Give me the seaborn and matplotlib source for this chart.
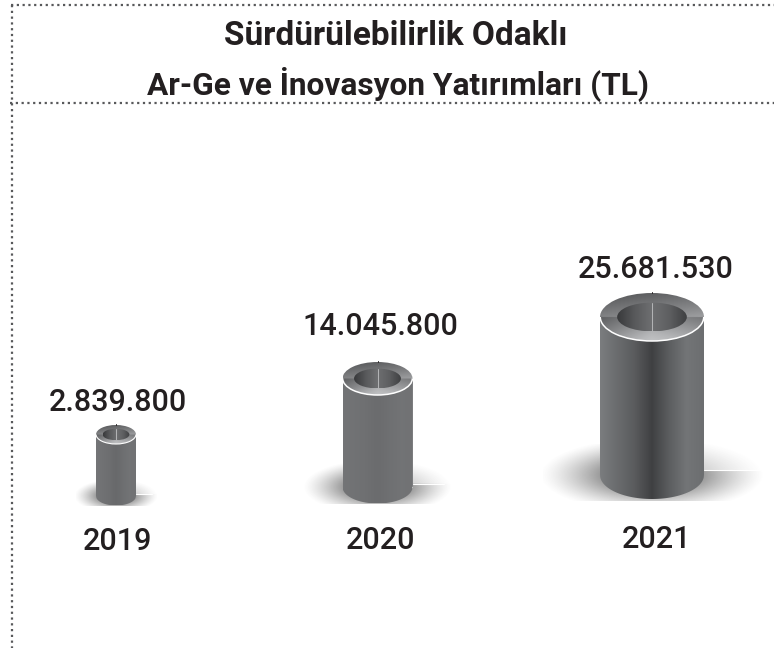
import numpy as np
import matplotlib
matplotlib.use("Agg")
from matplotlib import pyplot as plt
from matplotlib.colors import LinearSegmentedColormap, to_rgb
from matplotlib.patches import Arc, Ellipse
from matplotlib.path import Path
from matplotlib.transforms import ScaledTranslation
import seaborn as sns

title_lines = ["Sürdürülebilirlik Odaklı", "Ar-Ge ve İnovasyon Yatırımları (TL)"]
years = ["2019", "2020", "2021"]
values = [2839800, 14045800, 25681530]
value_labels = ["2.839.800", "14.045.800", "25.681.530"]

W, H = 774, 648

# pixel layout of each cylinder: centre x, rx, ry, top centre y, bottom centre y
layout = {
    "2019": (116, 20, 9.5, 434.5, 496),
    "2020": (377.5, 35, 16.5, 378.5, 487),
    "2021": (652, 52, 24, 317, 475),
}
# pad (pt) of value label, pad (pt) of year label, x shift (pt) of labels
label_pads = {"2019": (12.5, 15.5, 1), "2020": (27, 16, 2), "2021": (24, 19, 3)}
# shadow box in pixels: left, right, top, bottom
shadows = {
    "2019": (76, 160, 480, 506),
    "2020": (303, 452, 462, 504),
    "2021": (543, 768, 444, 501),
}
# how much of the body shading shows on each cylinder
contrast = {"2019": 0.2, "2020": 0.14, "2021": 1.0}

sns.set_theme(style="white")
plt.rcParams["font.family"] = ["Roboto", "DejaVu Sans"]

body_stops = ["#7b7d7f", "#6a6c6e", "#5a5b5d", "#3f4042", "#5c5e60", "#737577", "#6c6e70"]
hole_cmap = LinearSegmentedColormap.from_list(
    "hole", ["#38393b", "#58595b", "#6e6f71", "#5e5f61", "#3f4042"]
)
ring_cmap = LinearSegmentedColormap.from_list(
    "ring", ["#5a5b5d", "#848587", "#b4b5b7", "#d6d7d8"]
)


def body_map(k):
    base = np.array(to_rgb("#727375"))
    cols = [base + k * (np.array(to_rgb(c)) - base) for c in body_stops]
    return LinearSegmentedColormap.from_list("body", cols)


fig = plt.figure(figsize=(W / 100, H / 100), dpi=100)
bg = fig.add_axes([0, 0, 1, 1])
bg.set_xlim(0, W)
bg.set_ylim(H, 0)
bg.axis("off")

# dotted frame
dots = dict(color="#58595b", lw=1.6, linestyle=(0, (1, 1.6)))
bg.plot([11, W], [5, 5], **dots)
bg.plot([10, W], [103, 103], **dots)
bg.plot([12, 12], [5, H], **dots)

bg.text(396, 45, title_lines[0], ha="center", va="baseline", fontsize=24,
        fontweight="bold", color="#231f20")
bg.text(398, 95, title_lines[1], ha="center", va="baseline", fontsize=22.8,
        fontweight="bold", color="#231f20")

# soft ground shadows
for year in years:
    x0, x1, y0, y1 = shadows[year]
    cx, rx, ry, top, bottom = layout[year]
    xx, yy = np.meshgrid(np.linspace(x0, x1, 300), np.linspace(y0, y1, 120))
    r = np.hypot((xx - cx) / ((x1 - x0) / 2), (yy - bottom) / ((y1 - y0) * 0.66))
    alpha = np.clip(1 - r, 0, 1) ** 1.3 * 1.25
    rgba = np.zeros(xx.shape + (4,))
    rgba[..., :3] = 0.30
    rgba[..., 3] = np.clip(alpha, 0, 1)
    # the lit band right of the cylinder is fainter above its hard edge
    rgba[..., 3] *= np.where((xx > cx) & (yy < bottom - ry * 0.2), 0.45, 1.0)
    bg.imshow(rgba, extent=(x0, x1, y1, y0), aspect="auto", zorder=1)
    bg.plot([cx + rx, x1 - 8], [bottom - ry * 0.2] * 2, color="white", lw=0.8, zorder=2)
bg.set_xlim(0, W)
bg.set_ylim(H, 0)

for year, value, label in zip(years, values, value_labels):
    cx, rx, ry, top, bottom = layout[year]
    ax = fig.add_axes([
        (cx - rx) / W,
        1 - (bottom + ry) / H,
        2 * rx / W,
        (bottom - top + 2 * ry) / H,
    ])
    sns.barplot(x=[year], y=[value], width=1, color="#6c6e70", ax=ax)
    bar = ax.patches[0]
    cap = ry / (bottom - top) * value  # cap semi-height in value units

    ax.set_xlim(-0.5, 0.5)
    ax.set_ylim(-cap, value + cap)
    ax.patch.set_visible(False)
    sns.despine(ax=ax, left=True, bottom=True)
    ax.set_yticks([])
    ax.set_xlabel("")
    ax.set_ylabel("")

    # outline of body + rounded bottom, from the bar itself
    t = np.linspace(np.pi, 2 * np.pi, 80)
    verts = np.column_stack([0.5 * np.cos(t), cap * np.sin(t)])
    verts = np.vstack([verts, [bar.get_x() + bar.get_width(), bar.get_height()],
                       [bar.get_x(), bar.get_height()], verts[0]])
    outline = Path(verts, closed=True)

    shade = np.linspace(0, 1, 256)[None, :]
    img = ax.imshow(shade, cmap=body_map(contrast[year]), extent=(-0.5, 0.5, -cap, value),
                    aspect="auto", zorder=3)
    img.set_clip_path(outline, ax.transData)

    # top ring
    xx, yy = np.meshgrid(np.linspace(-1, 1, 200), np.linspace(1, -1, 120))
    ring = np.clip(0.42 - 0.38 * yy + 0.10 * xx - 0.3 * np.abs(xx) * (yy < 0), 0, 1)
    img = ax.imshow(ring, cmap=ring_cmap, vmin=0, vmax=1,
                    extent=(-0.5, 0.5, value - cap, value + cap), aspect="auto", zorder=4)
    top_ell = Ellipse((0, value), 1, 2 * cap, transform=ax.transData)
    img.set_clip_path(top_ell)

    # bright lower rim
    ax.add_patch(Arc((0, value), 0.995, 2 * cap, theta1=180, theta2=360,
                     color="white", lw=1.1 if year != "2019" else 0.8, zorder=5))

    # hole
    hole_w = 0.67
    hole_h = 2 * cap * 0.6
    img = ax.imshow(shade, cmap=hole_cmap, extent=(-hole_w / 2, hole_w / 2, value - hole_h / 2,
                    value + hole_h / 2), aspect="auto", zorder=6)
    hole_ell = Ellipse((0, value), hole_w, hole_h, transform=ax.transData)
    img.set_clip_path(hole_ell)
    ax.plot([0, 0], [value - hole_h / 2, value + hole_h / 2], color="#b5b6b8", lw=0.7, zorder=7)
    ax.plot([0, 0], [value + cap, value + cap * 1.06], color="#231f20", lw=0.7,
            zorder=7, clip_on=False)

    ax.set_xlim(-0.5, 0.5)
    ax.set_ylim(-cap, value + cap)

    value_pad, year_pad, shift = label_pads[year]
    txt = ax.bar_label(ax.containers[0], labels=[label], padding=value_pad, fontsize=22,
                       fontweight="medium", color="#231f20", zorder=8)[0]
    txt.xyann = (shift, value_pad)

    ax.tick_params(axis="x", length=0, pad=year_pad, labelsize=22, labelcolor="#231f20")
    for tick_label in ax.get_xticklabels():
        tick_label.set_fontweight("medium")
        tick_label.set_transform(tick_label.get_transform()
                                 + ScaledTranslation(shift / 72, 0, fig.dpi_scale_trans))

fig.savefig("out.png", dpi=100)
